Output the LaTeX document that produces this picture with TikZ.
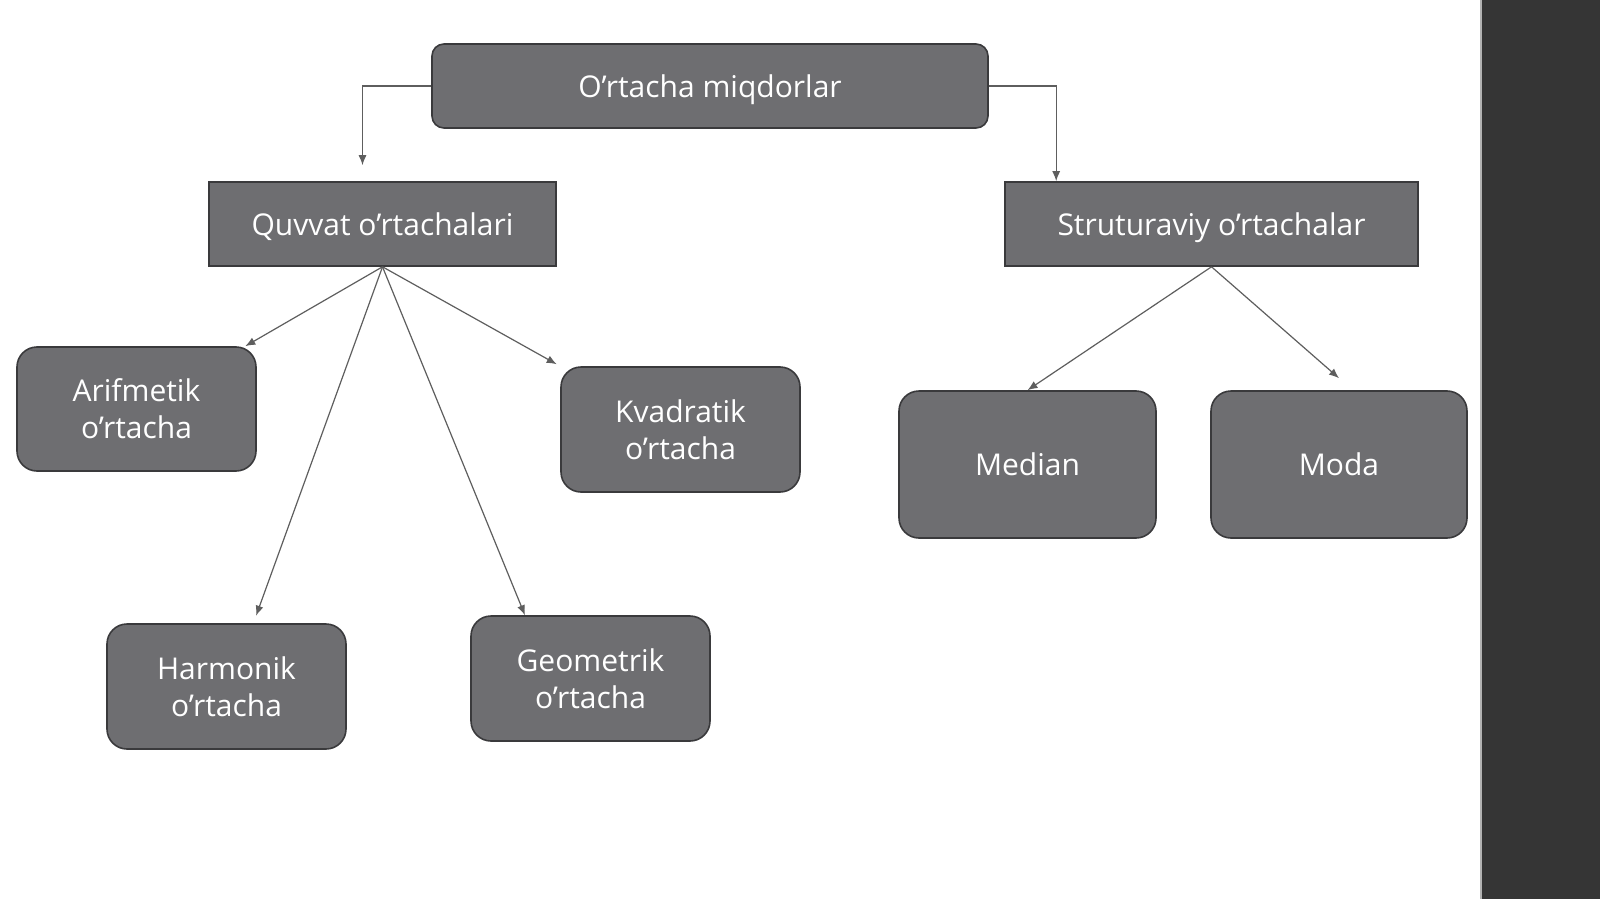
\documentclass[tikz,border=0pt]{standalone}
\usepackage{fontspec}
\setmainfont{Open Sans}
\usetikzlibrary{arrows.meta,positioning,calc}
\definecolor{cardFill}{HTML}{6E6E71}
\definecolor{cardEdge}{HTML}{3A3A3C}
\definecolor{linkGray}{HTML}{5E5E5E}
\definecolor{sideBar}{HTML}{353535}

\begin{document}
\begin{tikzpicture}[x=0.5pt, y=-0.5pt,
    card/.style={draw=cardEdge, line width=0.8pt, fill=cardFill, text=white, rounded corners=10pt, align=center, inner sep=0pt, text depth=0pt, font=\fontsize{15}{18.5}\selectfont},
    flatcard/.style={card, rounded corners=0pt},
    link/.style={-{Latex[length=5pt,width=4pt]}, line width=0.6pt, linkGray}]
        \useasboundingbox (0,0) rectangle (1600,899);
        \fill[white] (0,0) rectangle (1600,899);
        \fill[sideBar] (1481,0) rectangle (1600,899);
        \draw[gray!60, line width=0.8pt] (1481,0) -- (1481,899);

        % top level
        \node[card, rounded corners=6pt, minimum width=278pt, minimum height=42pt] (top) at (710,86) {O’rtacha miqdorlar};
        \node[flatcard, minimum width=173.5pt, minimum height=42pt] (quv) at (382.5,224) {Quvvat o’rtachalari};
        \node[flatcard, minimum width=206.5pt, minimum height=42pt] (str) at (1211.5,224) {Struturaviy o’rtachalar};

        % power means
        \node[card, minimum width=119.5pt, minimum height=62pt] (ari) at (136.5,409) {Arifmetik\\o’rtacha};
        \node[card, minimum width=119.5pt, minimum height=62.5pt] (kva) at (680.5,429.5) {Kvadratik\\o’rtacha};
        \node[card, minimum width=119.5pt, minimum height=62.5pt] (har) at (226.5,686.5) {Harmonik\\o’rtacha};
        \node[card, minimum width=119.5pt, minimum height=62.5pt] (geo) at (590.5,678.5) {Geometrik\\o’rtacha};

        % structural means
        \node[card, minimum width=128.5pt, minimum height=73.5pt] (med) at (1027.5,464.5) {Median};
        \node[card, minimum width=128pt, minimum height=73.5pt] (moda) at (1339,464.5) {Moda};

        \draw[link] (top.west) -| ($(quv.north)+(-20,-16)$);
        \draw[link] (top.east) -| ($(str.north west)+(52,0)$);
        \draw[link] (quv.south) -- (ari.30);
        \draw[link, shorten >=4pt] (quv.south) -- (har.67);
        \draw[link] (quv.south) -- (geo.136);
        \draw[link, shorten >=2pt] (quv.south) -- (kva.north west);
        \draw[link] (str.south) -- (med.north);
        \draw[link] (str.south) -- ($(moda.north)+(0,-12)$);
      \end{tikzpicture}
\end{document}
